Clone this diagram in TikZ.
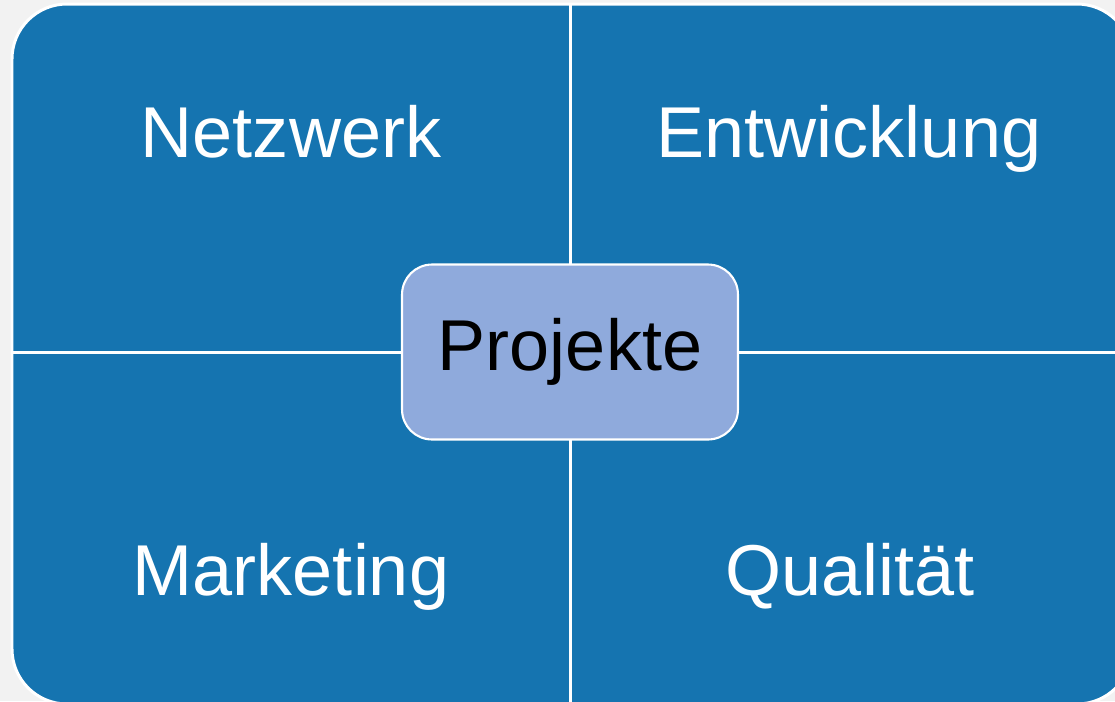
\documentclass[tikz,border=0pt]{standalone}
\usepackage{fontspec}
\setmainfont{Liberation Sans}

\definecolor{quadblue}{HTML}{1574B0}
\definecolor{hubblue}{HTML}{8FAADC}
\definecolor{pagegrey}{HTML}{F2F2F2}

\begin{document}
\begin{tikzpicture}[x=0.02cm,y=0.02cm]
  \tikzstyle{quadtext}=[text=white, font=\fontsize{41}{48}\selectfont, anchor=base, inner sep=0pt]
  \tikzstyle{hub}=[draw=white, line width=1.2pt, fill=hubblue, rounded corners=0.6cm,
    minimum width=6.72cm, minimum height=3.5cm, font=\fontsize{41}{48}\selectfont]
  \clip (0,0) rectangle (1115,-701);
  \fill [pagegrey] (0,0) rectangle (1115,-701);
  % matrix body
  \draw [white, line width=1.7pt, fill=quadblue, rounded corners=1.1cm] (12,-4) rectangle (1132,-704);
  \coordinate (top) at (570,-4);
  \coordinate (bottom) at (570,-704);
  \coordinate (left) at (12,-352);
  \coordinate (right) at (1132,-352);
  \draw [white, line width=1.7pt] (top) -- (bottom);
  \draw [white, line width=1.7pt] (left) -- (right);
  % labels
  \node [quadtext] (netz) at (291,-157) {Netzwerk};
  \node [quadtext] (entw) at (849,-157) {Entwicklung};
  \node [quadtext] (mark) at (291,-595) {Marketing};
  \node [quadtext] (qual) at (850,-595) {Qualität};
  \node [hub] (proj) at (570,-352) {Projekte};
\end{tikzpicture}
\end{document}
